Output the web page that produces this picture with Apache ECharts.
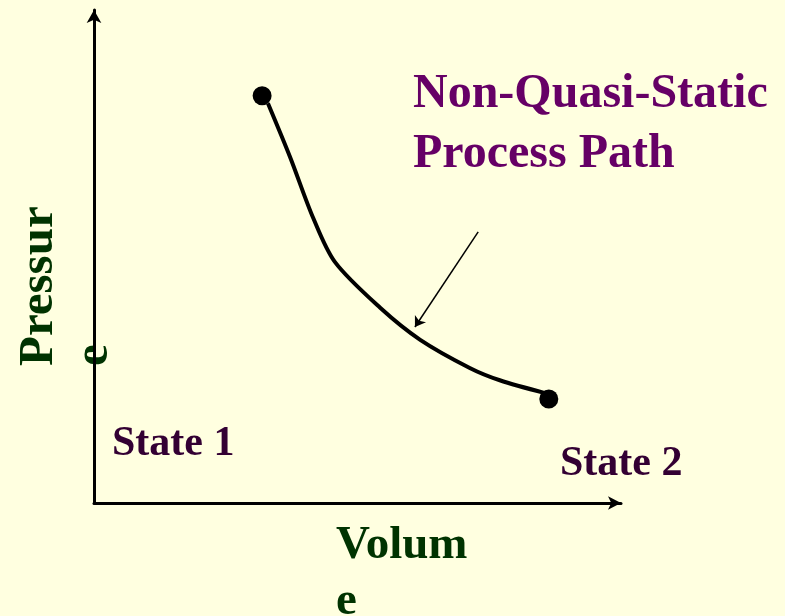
<!DOCTYPE html>
<html>
<head>
<meta charset="utf-8">
<script src="https://cdn.jsdelivr.net/npm/echarts@6/dist/echarts.min.js"></script>
<style>
  html, body { margin: 0; padding: 0; background: #ffffe0; }
  #main { width: 785px; height: 616px; }
</style>
</head>
<body>
<div id="main"></div>
<script>
// path from state 1 to state 2 (volume, pressure)
var pathVolume = [33.0, 37.2, 41.6, 45.7, 54.3, 61.9, 71.3, 77.0, 85.6];
var pathPressure = [81.1, 70.2, 57.8, 48.9, 39.6, 33.1, 27.4, 24.9, 22.3];
// end states
var stateVolume = [31.9, 86.3];
var statePressure = [82.6, 21.1];
// annotation arrow (from, to)
var arrowFrom = [72.9, 55.0];
var arrowTo = [60.9, 35.7];

var pathData = pathVolume.map(function (v, i) { return [v, pathPressure[i]]; });
var stateData = stateVolume.map(function (v, i) { return [v, statePressure[i]]; });

var serif = '"Liberation Serif", "DejaVu Serif", serif';

var option = {
    backgroundColor: '#ffffe0',
    animation: false,
    grid: { left: 94, right: 164, top: 10, bottom: 113 },
    xAxis: {
        type: 'value', min: 0, max: 100,
        axisLine: { lineStyle: { color: '#000', width: 3 }, symbol: ['none', 'arrow'], symbolSize: [10, 13] },
        axisTick: { show: false }, axisLabel: { show: false }, splitLine: { show: false }
    },
    yAxis: {
        type: 'value', min: 0, max: 100,
        axisLine: { lineStyle: { color: '#000', width: 3 }, symbol: ['none', 'arrow'], symbolSize: [11, 13] },
        axisTick: { show: false }, axisLabel: { show: false }, splitLine: { show: false }
    },
    graphic: [
        { type: 'text', x: 413, y: 65, style: { text: 'Non-Quasi-Static\nProcess Path', font: 'bold 48px ' + serif, fill: '#660066', lineHeight: 60 } },
        { type: 'text', x: 112, y: 423, style: { text: 'State 1', font: 'bold 42px ' + serif, fill: '#330033' } },
        { type: 'text', x: 560, y: 443, style: { text: 'State 2', font: 'bold 42px ' + serif, fill: '#330033' } },
        { type: 'text', x: 336, y: 518, style: { text: 'Volum\ne', font: 'bold 47px ' + serif, fill: '#003300', lineHeight: 56 } },
        { type: 'text', x: 12, y: 366, rotation: Math.PI / 2, style: { text: 'Pressur\ne', font: 'bold 49px ' + serif, fill: '#003300', lineHeight: 55 } }
    ],
    series: [
        {
            type: 'line', data: pathData, smooth: 0.3, showSymbol: false,
            lineStyle: { color: '#000', width: 4 }, z: 2
        },
        {
            type: 'scatter', data: stateData, symbolSize: 19,
            itemStyle: { color: '#000', opacity: 1 }, z: 3
        },
        {
            type: 'lines', coordinateSystem: 'cartesian2d',
            data: [{ coords: [arrowFrom, arrowTo] }],
            symbol: ['none', 'arrow'], symbolSize: 10,
            lineStyle: { color: '#000', width: 1.5, opacity: 1 }
        }
    ]
};

var myChart = echarts.init(document.getElementById('main'));
myChart.setOption(option);
</script>
</body>
</html>
